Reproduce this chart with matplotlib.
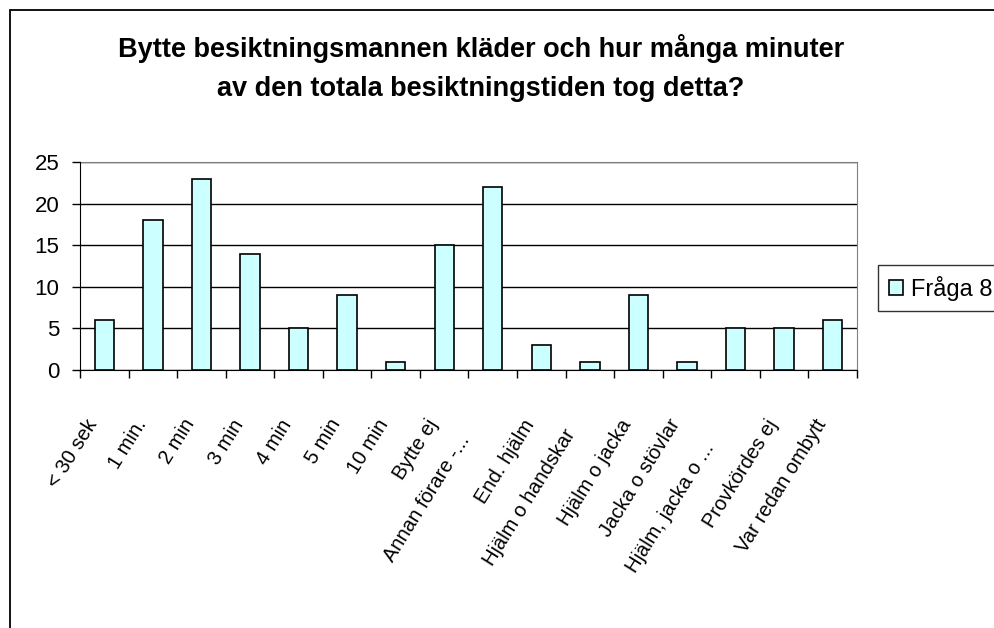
import matplotlib
matplotlib.use("Agg")
import matplotlib.pyplot as plt
import matplotlib.transforms as mtransforms
from matplotlib.patches import Rectangle
import numpy as np

plt.rcParams['font.family'] = ['Liberation Sans', 'DejaVu Sans']

# data
categories = ['< 30 sek', '1 min.', '2 min', '3 min', '4 min', '5 min', '10 min',
              'Bytte ej', 'Annan förare -...', 'End. hjälm', 'Hjälm o handskar',
              'Hjälm o jacka', 'Jacka o stövlar', 'Hjälm, jacka o ...',
              'Provkördes ej', 'Var redan ombytt']
values = [6, 18, 23, 14, 5, 9, 1, 15, 22, 3, 1, 9, 1, 5, 5, 6]
series_name = 'Fråga 8'
title = 'Bytte besiktningsmannen kläder och hur många minuter\nav den totala besiktningstiden tog detta?'
yticks = [0, 5, 10, 15, 20, 25]

# extra label shifts (pixels) for the labels Excel pushed down
label_shift = {8: (-16, -16), 10: (-8, -10), 13: (-15, -24)}

W, H = 995, 628
fig = plt.figure(figsize=(W / 100, H / 100), dpi=100)

# outer chart border (cropped on right and bottom)
fig.patches.append(Rectangle((10 / W, -0.1), 1.2, 1 - 10 / H + 0.1, transform=fig.transFigure,
                             fill=False, edgecolor='black', linewidth=1.3))

ax = fig.add_axes([80 / W, 1 - 370 / H, 777 / W, 208 / H])
x = np.arange(len(categories))
ax.bar(x, values, width=0.4, color='#CCFFFF', edgecolor='black', linewidth=1.2,
       label=series_name, zorder=3)

ax.set_xlim(-0.5, len(categories) - 0.5)
ax.set_ylim(0, 25)
ax.set_yticks(yticks)
ax.yaxis.grid(True, color='black', linewidth=1.0, zorder=0)
ax.tick_params(axis='y', labelsize=16, length=6, width=1, pad=9)

# category boundaries as major ticks, names on minor ticks
ax.set_xticks(np.arange(len(categories) + 1) - 0.5)
ax.set_xticklabels([])
ax.tick_params(axis='x', which='major', length=6, width=1)
ax.set_xticks(x, minor=True)
ax.set_xticklabels(categories, minor=True, rotation=58, ha='right', va='top',
                   rotation_mode='anchor', fontsize=14.5)
ax.tick_params(axis='x', which='minor', length=0, pad=33)
for i, lab in enumerate(ax.xaxis.get_minorticklabels()):
    dx, dy = label_shift.get(i, (0, 0))
    lab.set_transform(lab.get_transform() +
                      mtransforms.ScaledTranslation((dx - 19) / 100, dy / 100, fig.dpi_scale_trans))

for s in ['top', 'right']:
    ax.spines[s].set_color('#808080')
for s in ['left', 'bottom']:
    ax.spines[s].set_color('black')
    ax.spines[s].set_zorder(4)

fig.text(481 / W, 1 - 68 / H, title, ha='center', va='center', fontsize=19.5,
         fontweight='bold', linespacing=1.65)

leg = fig.legend(loc='upper left', bbox_to_anchor=(878 / W, 1 - 265 / H), fontsize=17,
                 frameon=True, fancybox=False, edgecolor='black', handlelength=0.6,
                 handleheight=0.6, handletextpad=0.35, borderpad=0.45, borderaxespad=0)
leg.get_frame().set_linewidth(1.0)

fig.savefig('out.png', dpi=100)
